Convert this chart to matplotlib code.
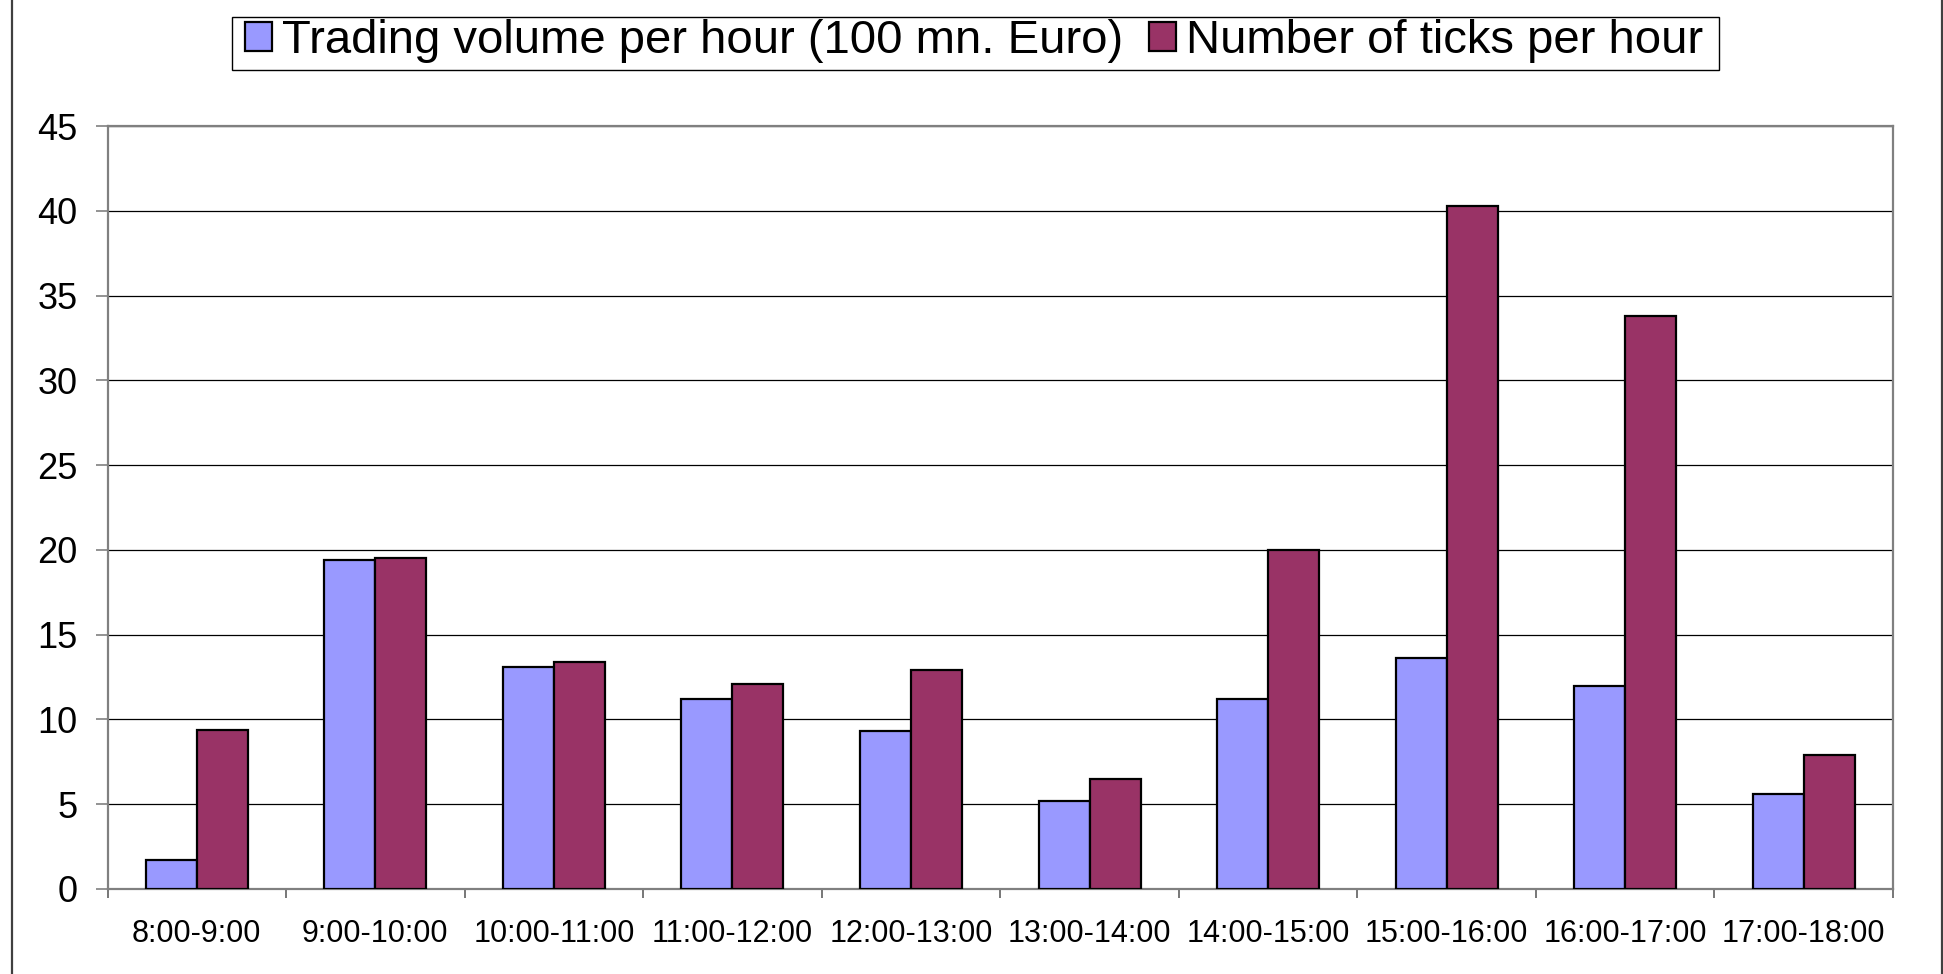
import matplotlib
matplotlib.use("Agg")
import matplotlib.pyplot as plt
import numpy as np
from matplotlib.lines import Line2D
from matplotlib.patches import Rectangle

# ── data ──────────────────────────────────────────────────────────────────────
hours = ["8:00-9:00", "9:00-10:00", "10:00-11:00", "11:00-12:00", "12:00-13:00",
         "13:00-14:00", "14:00-15:00", "15:00-16:00", "16:00-17:00", "17:00-18:00"]
volume = [1.7, 19.4, 13.1, 11.2, 9.3, 5.2, 11.2, 13.6, 12.0, 5.6]
ticks = [9.4, 19.5, 13.4, 12.1, 12.9, 6.5, 20.0, 40.3, 33.8, 7.9]
y_ticks = list(range(0, 46, 5))

plt.rcParams["font.family"] = ["Liberation Sans", "DejaVu Sans"]

W, H = 1943, 974
fig = plt.figure(figsize=(W / 100, H / 100), dpi=100)
ax = fig.add_axes([107.5 / W, 1 - 889 / H, (1893 - 107.5) / W, (889 - 126) / H])

x = np.arange(len(hours))
bw = 1 / 3.5
ax.bar(x - bw / 2, volume, bw, color="#9999FF", edgecolor="black",
       linewidth=1.6, zorder=3, label="Trading volume per hour (100 mn. Euro)")
ax.bar(x + bw / 2, ticks, bw, color="#993366", edgecolor="black",
       linewidth=1.6, zorder=3, label="Number of ticks per hour")

ax.set_xlim(-0.5, len(hours) - 0.5)
ax.set_ylim(0, 45)
ax.set_axisbelow(True)
ax.yaxis.grid(True, color="black", linewidth=0.9)

ax.set_yticks(y_ticks)
ax.tick_params(axis="y", labelsize=26, length=8.6, width=1.2, color="#808080", pad=13)

ax.set_xticks(np.arange(len(hours) + 1) - 0.5)
ax.set_xticklabels([])
ax.set_xticks(x, minor=True)
ax.set_xticklabels(hours, minor=True)
ax.tick_params(axis="x", which="major", length=6.5, width=1.2, color="#606060")
ax.tick_params(axis="x", which="minor", length=0, labelsize=22, pad=21.5)

for s in ax.spines.values():
    s.set_color("#808080")
    s.set_linewidth(1.6)

# legend without its own frame; frame drawn by hand to match the reference box
leg = fig.legend(loc="center left", bbox_to_anchor=(245 / W, 1 - 41 / H), ncol=2,
                 fontsize=34, frameon=False,
                 handlelength=0.58, handleheight=0.58, handletextpad=0.2,
                 columnspacing=0.55, borderpad=0, borderaxespad=0)
for p in leg.get_patches():
    p.set_linewidth(1.6)
fig.add_artist(Rectangle((231.7 / W, 1 - 70 / H), (1719 - 231.7) / W, 53 / H,
                         transform=fig.transFigure, fill=False,
                         edgecolor="black", linewidth=1.0))

# outer chart border (left and right edges visible)
fig.add_artist(Line2D([12 / W, 12 / W], [0, 1], color="#404040", linewidth=1.6))
fig.add_artist(Line2D([1941.5 / W, 1941.5 / W], [0, 1], color="#404040", linewidth=1.6))

fig.savefig("out.png", dpi=100)
